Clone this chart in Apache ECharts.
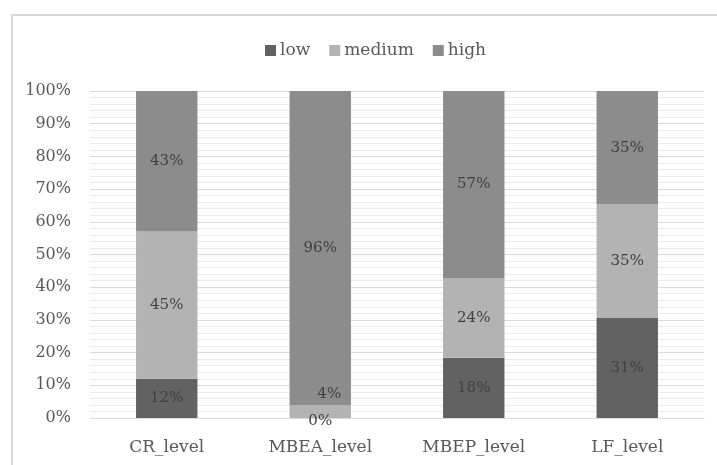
<!DOCTYPE html>
<html>
<head>
<meta charset="utf-8">
<script src="https://cdn.jsdelivr.net/npm/echarts@6/dist/echarts.min.js"></script>
<style>
  html, body { margin: 0; padding: 0; background: #ffffff; }
  #chart { width: 717px; height: 465px; }
</style>
</head>
<body>
<div id="chart"></div>
<script>
// Share of each level (percent) per indicator
const categories = ['CR_level', 'MBEA_level', 'MBEP_level', 'LF_level'];
const lowValues = [12, 0, 18.4, 30.6];
const mediumValues = [45, 4, 24.4, 34.7];
const highValues = [43, 96, 57.2, 34.7];
const yTicks = [0, 10, 20, 30, 40, 50, 60, 70, 80, 90, 100];

const FONT = 'DejaVu Serif';
const TEXT = '#595959';
const LABEL = '#404040';

function labelled(values, offsets) {
  return values.map((v, i) => {
    const item = { value: v };
    if (offsets && offsets[i]) item.label = { offset: offsets[i] };
    return item;
  });
}

const labelStyle = {
  show: true,
  position: 'inside',
  color: LABEL,
  fontFamily: FONT,
  fontSize: 15,
  formatter: p => Math.round(p.value) + '%'
};

const chart = echarts.init(document.getElementById('chart'), null, { renderer: 'canvas' });

chart.setOption({
  animation: false,
  backgroundColor: '#ffffff',
  textStyle: { fontFamily: FONT },
  graphic: [{
    type: 'rect',
    shape: { x: 12, y: 15, width: 800, height: 600 },
    style: { fill: 'none', stroke: '#d9d9d9', lineWidth: 2 },
    silent: true,
    z: -10
  }],
  legend: {
    left: 260,
    top: 37,
    itemWidth: 11,
    itemHeight: 11,
    itemGap: 19,
    icon: 'rect',
    textStyle: { color: TEXT, fontFamily: FONT, fontSize: 17, padding: [0, 0, 0, -1] },
    data: ['low', 'medium', 'high']
  },
  grid: { left: 90, right: 13, top: 91, bottom: 47 },
  xAxis: {
    type: 'category',
    data: categories,
    axisLine: { show: true, lineStyle: { color: '#d9d9d9', width: 1 } },
    axisTick: { show: false },
    axisLabel: { color: TEXT, fontFamily: FONT, fontSize: 17, margin: 21 }
  },
  yAxis: {
    type: 'value',
    min: 0,
    max: 100,
    interval: 10,
    axisLine: { show: false },
    axisTick: { show: false },
    axisLabel: {
      color: TEXT, fontFamily: FONT, fontSize: 16, margin: 19,
      formatter: v => (yTicks.indexOf(v) >= 0 ? v + '%' : '')
    },
    splitLine: { show: true, lineStyle: { color: '#d9d9d9', width: 1 } },
    minorTick: { show: false, splitNumber: 5 },
    minorSplitLine: { show: true, lineStyle: { color: '#ebebeb', width: 1 } }
  },
  series: [
    {
      name: 'low', type: 'bar', stack: 'share',
      barCategoryGap: '60%',
      itemStyle: { color: '#626262' },
      label: labelStyle,
      data: labelled(lowValues, [null, [0, 3], null, null])
    },
    {
      name: 'medium', type: 'bar', stack: 'share',
      barCategoryGap: '60%',
      itemStyle: { color: '#b3b3b3' },
      label: labelStyle,
      data: labelled(mediumValues, [null, [9, -17], null, null])
    },
    {
      name: 'high', type: 'bar', stack: 'share',
      barCategoryGap: '60%',
      itemStyle: { color: '#8c8c8c' },
      label: labelStyle,
      data: labelled(highValues)
    }
  ]
});
</script>
</body>
</html>
